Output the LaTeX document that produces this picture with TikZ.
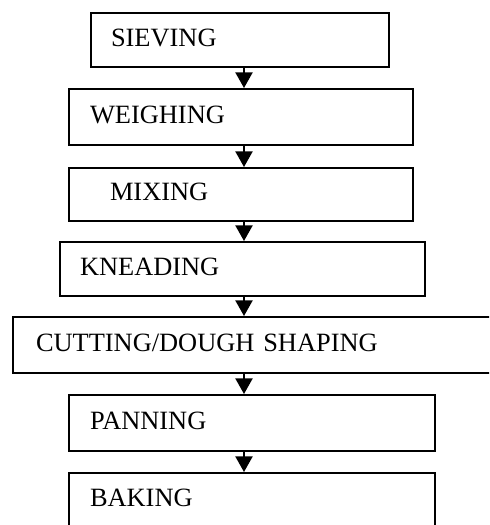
\documentclass[tikz,border=0pt]{standalone}
\usepackage{fontspec}
\setmainfont{Liberation Serif}
\usetikzlibrary{arrows.meta}
\begin{document}
\begin{tikzpicture}[x=0.5pt,y=-0.5pt,
  stepbox/.style={draw=black, line width=1pt, rectangle, anchor=north west,
    align=left, inner ysep=0pt, text height=0.66em, text depth=0.02em,
    font=\fontsize{13.2}{15}\selectfont},
  flow/.style={draw=black, line width=1pt, -{Triangle[width=8.5pt,length=7.8pt]}}]
\useasboundingbox (0,0) rectangle (489,525);
\clip (0,0) rectangle (489,525);
\fill[white] (0,0) rectangle (489,525);
\coordinate (ax) at (244,0);
\node[stepbox, minimum width=149pt, minimum height=27pt, inner xsep=10pt, text width=129pt] (S) at (90,12) {SIEVING};
\node[stepbox, minimum width=172pt, minimum height=28pt, inner xsep=10.5pt, text width=151pt] (W) at (68,88) {WEIGHING};
\node[stepbox, minimum width=172pt, minimum height=26.5pt, inner xsep=20.5pt, text width=131pt] (M) at (68,167) {MIXING};
\node[stepbox, minimum width=182.5pt, minimum height=27pt, inner xsep=10pt, text width=162.5pt] (K) at (59,241) {KNEADING};
\node[stepbox, minimum width=244pt, minimum height=28pt, inner xsep=11.5pt, text width=221pt] (C) at (12,316) {CUTTING/DOUGH SHAPING};
\node[stepbox, minimum width=183pt, minimum height=28pt, inner xsep=10.5pt, text width=162pt] (P) at (68,394) {PANNING};
\node[stepbox, minimum width=183pt, minimum height=27.5pt, inner xsep=10.5pt, text width=162pt] (B) at (68,472) {BAKING};
\draw[flow] (S.south -| ax) -- (W.north -| ax);
\draw[flow] (W.south -| ax) -- (M.north -| ax);
\draw[flow] (M.south -| ax) -- (K.north -| ax);
\draw[flow] (K.south -| ax) -- (C.north -| ax);
\draw[flow] (C.south -| ax) -- (P.north -| ax);
\draw[flow] (P.south -| ax) -- (B.north -| ax);
\end{tikzpicture}
\end{document}
